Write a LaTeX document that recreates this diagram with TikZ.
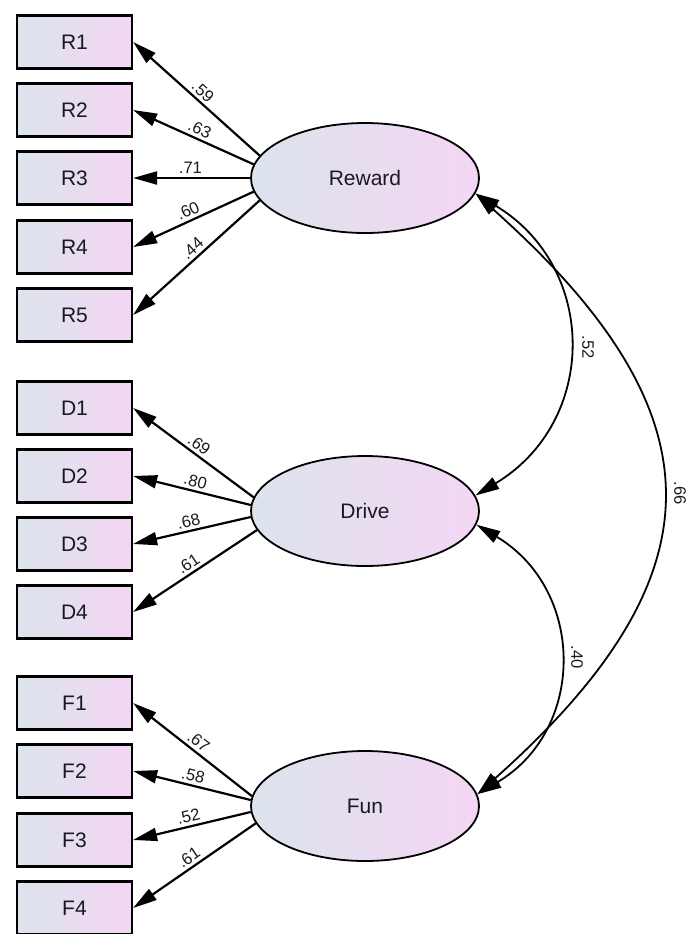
\documentclass[tikz,border=0pt]{standalone}
\usepackage{fontspec}
\setmainfont{Liberation Sans}
\usetikzlibrary{shapes.geometric,arrows.meta}
\definecolor{gradL}{RGB}{220,228,236}
\definecolor{gradR}{RGB}{244,214,244}
\definecolor{txt}{RGB}{25,25,35}
\tikzset{
  obs/.style={draw, line width=1.1pt, minimum width=57.5pt, minimum height=26.5pt,
    inner sep=0pt, left color=gradL, right color=gradR, text=txt,
    font=\fontsize{10.5}{12}\selectfont},
  lat/.style={ellipse, draw, line width=0.9pt, minimum width=114pt, minimum height=55pt,
    inner sep=0pt, left color=gradL, right color=gradR, text=txt,
    font=\fontsize{10.5}{12}\selectfont},
  tip/.tip={Triangle[length=12pt,width=6.5pt]},
  ld/.style={line width=1.1pt, tip-},
  cov/.style={line width=0.9pt, tip-tip},
  lbl/.style={font=\fontsize{8.3}{9}\selectfont, text=txt, inner sep=1.5pt},
}
\begin{document}
\begin{tikzpicture}[x=0.5pt,y=-0.5pt]
\useasboundingbox (0,0) rectangle (686,934);
% latent variables
\node[lat] (Reward) at (365,178) {Reward};
\node[lat] (Drive) at (365,511) {Drive};
\node[lat] (Fun) at (365,806) {Fun};
% observed variables
\node[obs] (R1) at (74.5,42) {R1};
\node[obs] (R2) at (74.5,110) {R2};
\node[obs] (R3) at (74.5,178) {R3};
\node[obs] (R4) at (74.5,247) {R4};
\node[obs] (R5) at (74.5,315) {R5};
\node[obs] (D1) at (74.5,408) {D1};
\node[obs] (D2) at (74.5,476) {D2};
\node[obs] (D3) at (74.5,544) {D3};
\node[obs] (D4) at (74.5,612) {D4};
\node[obs] (F1) at (74.5,703) {F1};
\node[obs] (F2) at (74.5,771) {F2};
\node[obs] (F3) at (74.5,840) {F3};
\node[obs] (F4) at (74.5,908) {F4};
% loadings
\draw[ld] (R1.east) -- (Reward.168.9) node[lbl,pos=0.5,sloped,above] {.59};
\draw[ld] (R2.east) -- (Reward.173.4) node[lbl,pos=0.52,sloped,above] {.63};
\draw[ld] (R3.east) -- (Reward.180) node[lbl,pos=0.49,sloped,above] {.71};
\draw[ld] (R4.east) -- (Reward.187.3) node[lbl,pos=0.49,sloped,above] {.60};
\draw[ld] (R5.east) -- (Reward.192.6) node[lbl,pos=0.52,sloped,above] {.44};
\draw[ld] (D1.east) -- (Drive.173.4) node[lbl,pos=0.5,sloped,above] {.69};
\draw[ld] (D2.east) -- (Drive.177) node[lbl,pos=0.51,sloped,above] {.80};
\draw[ld] (D3.east) -- (Drive.183) node[lbl,pos=0.49,sloped,above] {.68};
\draw[ld] (D4.east) -- (Drive.190) node[lbl,pos=0.49,sloped,above] {.61};
\draw[ld] (F1.east) -- (Fun.175) node[lbl,pos=0.5,sloped,above] {.67};
\draw[ld] (F2.east) -- (Fun.177) node[lbl,pos=0.49,sloped,above] {.58};
\draw[ld] (F3.east) -- (Fun.183.5) node[lbl,pos=0.49,sloped,above] {.52};
\draw[ld] (F4.east) -- (Fun.189.6) node[lbl,pos=0.5,sloped,above] {.61};
% covariances
\draw[cov] (Reward.352.4) .. controls +(123,74) and +(123,-74) .. (Drive.8);
\draw[cov] (Reward.352.4) .. controls +(247,220) and +(247,-220) .. (Fun.6.5);
\draw[cov] (Drive.353) .. controls +(109,65) and +(109,-65) .. (Fun.6.5);
\node[lbl,rotate=-90] (c52) at (588,347) {.52};
\node[lbl,rotate=-90] (c66) at (680,493) {.66};
\node[lbl,rotate=-90] (c40) at (577,657) {.40};
\end{tikzpicture}
\end{document}
